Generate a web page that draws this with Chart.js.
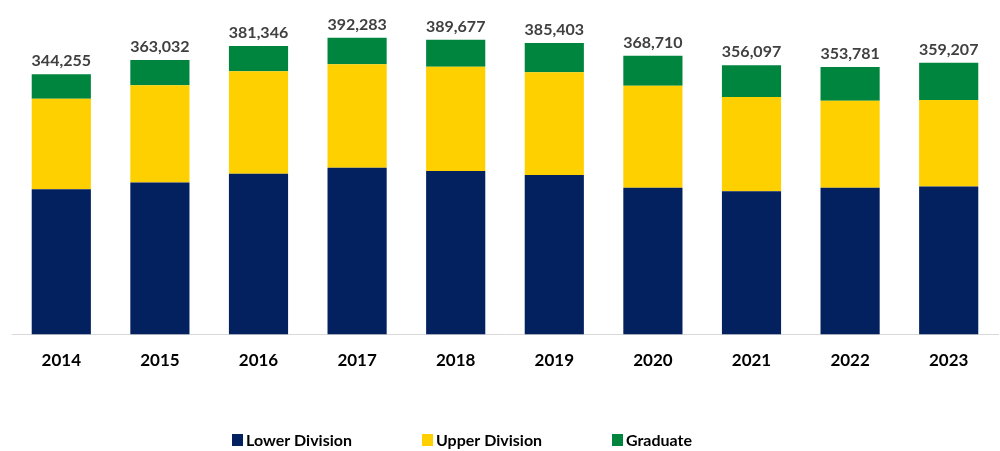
<!DOCTYPE html>
<html>
<head>
<meta charset="utf-8">
<script src="https://cdn.jsdelivr.net/npm/chart.js@4.4.1/dist/chart.umd.min.js"></script>
<style>
  html, body { margin: 0; padding: 0; background: #fff; }
</style>
</head>
<body>
<canvas id="enrollChart" width="1000" height="451"></canvas>
<script>
const years = ["2014", "2015", "2016", "2017", "2018", "2019", "2020", "2021", "2022", "2023"];
const lowerDivision = [192300, 201100, 212600, 220600, 216200, 210900, 194000, 189600, 194000, 195800];
const upperDivision = [119600, 128500, 135600, 136900, 137700, 136000, 135100, 124400, 115200, 114300];
const graduate = [32355, 33432, 33146, 34783, 35777, 38503, 39610, 42097, 44581, 49107];
const seriesNames = ["Lower Division", "Upper Division", "Graduate"];
const seriesColors = ["#03215F", "#FED000", "#00853E"];

const FONT = "Lato, 'Open Sans', sans-serif";

// total above each stacked bar
const totalLabels = {
  id: "totalLabels",
  afterDatasetsDraw(chart) {
    const ctx = chart.ctx;
    const last = chart.getDatasetMeta(chart.data.datasets.length - 1);
    ctx.save();
    ctx.font = "bold 16px " + FONT;
    ctx.fillStyle = "#404040";
    ctx.textAlign = "center";
    ctx.textBaseline = "bottom";
    years.forEach((y, i) => {
      const total = lowerDivision[i] + upperDivision[i] + graduate[i];
      const bar = last.data[i];
      ctx.fillText(total.toLocaleString("en-US"), bar.x, bar.y - 5);
    });
    ctx.restore();
  }
};

// legend row under the axis
const bottomLegend = {
  id: "bottomLegend",
  afterDraw(chart) {
    const ctx = chart.ctx;
    ctx.save();
    ctx.font = "bold 16px " + FONT;
    ctx.textBaseline = "middle";
    ctx.textAlign = "left";
    chart.data.datasets.forEach((ds, i) => {
      const x = 232 + i * 190;
      const y = 440;
      ctx.fillStyle = ds.backgroundColor;
      ctx.fillRect(x, y - 6, 11, 12);
      ctx.fillStyle = "#000";
      ctx.fillText(ds.label, x + 14, y + 1);
    });
    ctx.restore();
  }
};

new Chart(document.getElementById("enrollChart"), {
  type: "bar",
  data: {
    labels: years,
    datasets: [
      { label: seriesNames[0], data: lowerDivision, backgroundColor: seriesColors[0] },
      { label: seriesNames[1], data: upperDivision, backgroundColor: seriesColors[1] },
      { label: seriesNames[2], data: graduate, backgroundColor: seriesColors[2] }
    ]
  },
  options: {
    responsive: false,
    animation: false,
    layout: { padding: { left: 12, right: 2, top: 32, bottom: 72 } },
    datasets: { bar: { barPercentage: 0.6, categoryPercentage: 1 } },
    plugins: {
      legend: { display: false },
      tooltip: { enabled: false }
    },
    scales: {
      x: {
        stacked: true,
        grid: { display: false },
        border: { color: "#D9D9D9", width: 1 },
        ticks: { color: "#000", font: { family: FONT, size: 17, weight: "bold" }, padding: 8 }
      },
      y: {
        stacked: true,
        display: false,
        min: 0,
        max: 400000
      }
    }
  },
  plugins: [totalLabels, bottomLegend]
});
</script>
</body>
</html>
